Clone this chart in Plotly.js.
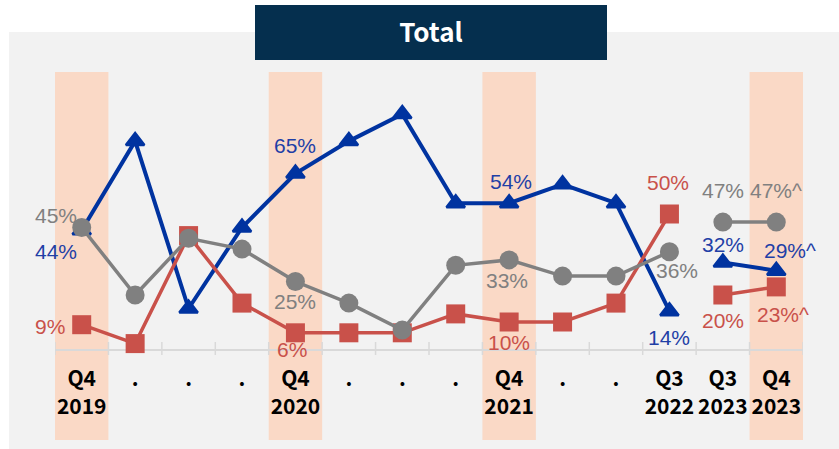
<!DOCTYPE html>
<html>
<head>
<meta charset="utf-8">
<script src="https://cdn.plot.ly/plotly-3.0.1.min.js"></script>
<style>html,body{margin:0;padding:0;background:#fff;}#chart{width:839px;height:449px;}</style>
</head>
<body>
<div id="chart"></div>
<script>
// ---- data ----
const categories = ["Q4<br>2019", ".", ".", ".", "Q4<br>2020", ".", ".", ".", "Q4<br>2021", ".", ".", "Q3<br>2022", "Q3<br>2023", "Q4<br>2023"];
const blueValues = [44, 77, 15, 45, 65, 77, 87, 54, 54, 61, 54, 14, 32, 29];
const redValues  = [9, 2, 42, 17, 6, 6, 6, 13, 10, 10, 17, 50, 20, 23];
const grayValues = [45, 20, 41, 37, 25, 17, 7, 31, 33, 27, 27, 36, 47, 47];
const blueLabels = ["44%", null, null, null, "65%", null, null, null, "54%", null, null, "14%", "32%", "29%^"];
const redLabels  = ["9%", null, null, null, "6%", null, null, null, "10%", null, null, "50%", "20%", "23%^"];
const grayLabels = ["45%", null, null, null, "25%", null, null, null, "33%", null, null, "36%", "47%", "47%^"];
const highlighted = [0, 4, 8, 13];
const breakIndex = 12; // series restart at Q3 2023

// ---- styles / layout helpers ----
const W = 839, H = 449;
const M = {l: 55, r: 36, t: 72, b: 100};
const plotH = H - M.t - M.b;
const pxPerUnit = 2.7;
const px2py = p => (H - M.b - p) / plotH;          // pixel y -> paper y
const px2px = p => (p - M.l) / (W - M.l - M.r);     // pixel x -> paper x

const series = [
  {name: "blue", values: blueValues, labels: blueLabels, color: "#0033a0", labelColor: "#1f3fa6",
   marker: {symbol: "triangle-up", size: 16, line: {width: 2.5, color: "#0033a0"}}, width: 4,
   shifts: {0: [-26, -21], 4: [0, 28], 8: [2, 22], 11: [0, -26], 12: [0, 18], 13: [14, 20]}},
  {name: "red", values: redValues, labels: redLabels, color: "#c9514a", labelColor: "#c9514a",
   marker: {symbol: "square", size: 19}, width: 3.5,
   shifts: {0: [-32, -2], 4: [-3, -17], 8: [0, -20], 11: [-1, 32], 12: [0, -25], 13: [7, -28]}},
  {name: "gray", values: grayValues, labels: grayLabels, color: "#808080", labelColor: "#808080",
   marker: {symbol: "circle", size: 19}, width: 3.5,
   shifts: {0: [-26, 12], 4: [0, -20], 8: [-2, -21], 11: [8, -19], 12: [0, 32], 13: [0, 32]}}
];

const idx = categories.map((_, i) => i);
const traces = [];
const annotations = [];
series.forEach(s => {
  [[0, breakIndex], [breakIndex, categories.length]].forEach(([a, b]) => {
    traces.push({
      type: "scatter", mode: "lines+markers",
      x: idx.slice(a, b), y: s.values.slice(a, b),
      line: {color: s.color, width: s.width},
      marker: Object.assign({color: s.color}, s.marker),
      cliponaxis: false, hoverinfo: "skip", showlegend: false
    });
  });
  s.labels.forEach((t, i) => {
    if (!t) return;
    const sh = s.shifts[i] || [0, 0];
    annotations.push({
      x: i, y: s.values[i], xref: "x", yref: "y", text: t, showarrow: false,
      xshift: sh[0], yshift: sh[1], xanchor: "center", yanchor: "middle",
      font: {family: "Liberation Sans, Arial, sans-serif", size: 21, color: s.labelColor}
    });
  });
});

const shapes = [];
// grey panel
shapes.push({type: "rect", xref: "paper", yref: "paper", layer: "below",
  x0: px2px(9), x1: px2px(839), y0: px2py(449), y1: px2py(32),
  fillcolor: "#f2f2f2", line: {width: 0}});
// highlight bands
highlighted.forEach(i => shapes.push({type: "rect", xref: "x", yref: "paper", layer: "below",
  x0: i - 0.5, x1: i + 0.5, y0: px2py(440), y1: px2py(72),
  fillcolor: "#fad9c6", line: {width: 0}}));
// title box
shapes.push({type: "rect", xref: "paper", yref: "paper", layer: "below",
  x0: px2px(255), x1: px2px(607), y0: px2py(60), y1: px2py(5),
  fillcolor: "#052f4e", line: {width: 0}});
// crossing tick marks at category boundaries
for (let i = 0; i <= categories.length; i++) {
  shapes.push({type: "line", xref: "x", yref: "paper", layer: "below",
    x0: i - 0.5, x1: i - 0.5, y0: px2py(342), y1: px2py(355),
    line: {color: "#d9d9d9", width: 1.5}});
}

const layout = {
  width: W, height: H,
  margin: M,
  paper_bgcolor: "#ffffff", plot_bgcolor: "rgba(0,0,0,0)",
  showlegend: false,
  title: {text: "<b>Total</b>", x: 431 / W, xref: "container", xanchor: "center",
          y: 1 - 33 / H, yref: "container", yanchor: "middle",
          font: {family: "Noto Sans CJK JP, Noto Sans, sans-serif", size: 26, color: "#ffffff"}},
  xaxis: {
    range: [-0.5, categories.length - 0.5], tickmode: "array", tickvals: idx,
    ticktext: categories.map(c => "<b>" + c + "</b>"),
    showgrid: false, zeroline: false, showline: true, linecolor: "#d9d9d9", linewidth: 2,
    layer: "below traces",
    ticks: "", ticklabelstandoff: 10,
    tickfont: {family: "Noto Sans CJK JP, Noto Sans, sans-serif", size: 21, color: "#000000"},
    fixedrange: true
  },
  yaxis: {
    range: [0, plotH / pxPerUnit], showgrid: false, zeroline: false, showline: false,
    showticklabels: false, ticks: "", fixedrange: true, layer: "below traces"
  },
  shapes: shapes,
  annotations: annotations
};

Plotly.newPlot("chart", traces, layout, {staticPlot: true, displayModeBar: false});
</script>
</body>
</html>
